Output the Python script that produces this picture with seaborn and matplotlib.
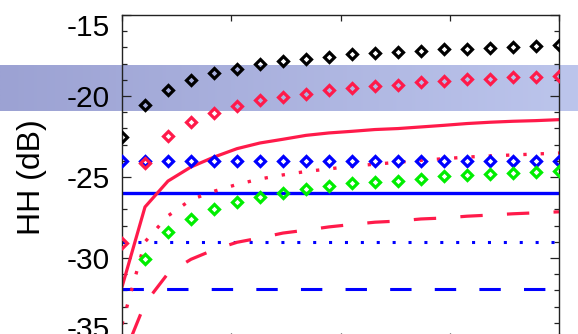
import numpy as np
import matplotlib
matplotlib.use("Agg")
import matplotlib.pyplot as plt
import matplotlib.transforms as mtrans
from matplotlib.colors import LinearSegmentedColormap
from matplotlib.ticker import MultipleLocator
import seaborn as sns

sns.set_style("white")
plt.rcParams["font.family"] = ["Liberation Sans", "DejaVu Sans"]
plt.rcParams["axes.unicode_minus"] = False

# ---------------- data ----------------
x_pos = [0, 1, 2, 3, 4, 5, 6, 7, 8, 9, 10, 11, 12, 13, 14, 15, 16, 17, 18, 19]

black_diamonds = [-22.53, -20.57, -19.60, -18.99, -18.58, -18.31, -18.04, -17.86, -17.73, -17.59,
                  -17.43, -17.35, -17.28, -17.20, -17.12, -17.07, -17.01, -16.97, -16.91, -16.85]
red_diamonds = [-29.10, -24.15, -22.49, -21.62, -21.05, -20.64, -20.27, -20.06, -19.85, -19.65,
                -19.50, -19.38, -19.30, -19.15, -19.05, -18.97, -18.93, -18.85, -18.80, -18.74]
blue_diamonds = [-24.0, -24.0, -24.0, -24.0, -24.0, -24.0, -24.0, -24.0, -24.0, -24.0,
                 -24.0, -24.0, -24.0, -24.0, -24.0, -24.0, -24.0, -24.0, -24.0, -24.0]
green_diamonds = [-35.20, -30.08, -28.40, -27.57, -26.95, -26.54, -26.23, -25.96, -25.76, -25.55,
                  -25.40, -25.31, -25.25, -25.10, -24.96, -24.90, -24.83, -24.75, -24.69, -24.65]

red_solid = [-31.79, -26.85, -25.25, -24.38, -23.77, -23.25, -22.90, -22.67, -22.43, -22.28,
             -22.18, -22.07, -22.01, -21.91, -21.81, -21.70, -21.62, -21.56, -21.52, -21.46]
red_dotted = [-34.10, -29.00, -27.40, -26.40, -25.88, -25.46, -25.12, -24.87, -24.66, -24.50,
              -24.33, -24.21, -24.09, -23.97, -23.87, -23.77, -23.70, -23.64, -23.58, -23.52]
red_dashed = [-36.30, -32.80, -30.95, -30.08, -29.49, -29.03, -28.76, -28.46, -28.28, -28.08,
              -27.93, -27.79, -27.72, -27.59, -27.53, -27.42, -27.35, -27.27, -27.21, -27.15]

blue_solid = [-26.0, -26.0, -26.0, -26.0, -26.0, -26.0, -26.0, -26.0, -26.0, -26.0,
              -26.0, -26.0, -26.0, -26.0, -26.0, -26.0, -26.0, -26.0, -26.0, -26.0]
blue_dotted = [-29.0, -29.0, -29.0, -29.0, -29.0, -29.0, -29.0, -29.0, -29.0, -29.0,
               -29.0, -29.0, -29.0, -29.0, -29.0, -29.0, -29.0, -29.0, -29.0, -29.0]
blue_dashed = [-31.93, -31.93, -31.93, -31.93, -31.93, -31.93, -31.93, -31.93, -31.93, -31.93,
               -31.93, -31.93, -31.93, -31.93, -31.93, -31.93, -31.93, -31.93, -31.93, -31.93]

band_range = [-20.93, -18.10]

y_ticks = [-35, -30, -25, -20, -15]
y_tick_labels = ["-35", "-30", "-25", "-20", "-15"]
x_ticks = [0, 4.75, 9.5, 14.25, 19]
y_label = "HH (dB)"

# ---------------- style ----------------
RED = "#ff1a4a"
BLUE = "#0000ff"
GREEN = "#00ee00"
BLACK = "#000000"

W, H = 578, 334
fig = plt.figure(figsize=(W / 100, H / 100), dpi=100)
ax = fig.add_axes([122 / W, 1 - 339 / H, 437 / W, 324 / H])

# gradient band spanning the figure width
band_cmap = LinearSegmentedColormap.from_list("band", ["#9ca2d3", "#bcc5ec"])
grad = np.linspace(0, 1, 256).reshape(1, -1)
ax.imshow(grad, cmap=band_cmap, aspect="auto", interpolation="bilinear",
          extent=(0, 1, band_range[0], band_range[1]),
          transform=mtrans.blended_transform_factory(fig.transFigure, ax.transData),
          clip_on=False, zorder=0)

dash = (0, (7.0, 7.6))
dot = (0, (1.0, 4.2))

def draw_line(y, color, ls, lw, z):
    sns.lineplot(x=x_pos, y=y, ax=ax, color=color, linewidth=lw, linestyle=ls,
                 estimator=None, sort=False, zorder=z)

draw_line(blue_solid, BLUE, "-", 2.4, 2)
draw_line(blue_dotted, BLUE, dot, 2.2, 2)
draw_line(blue_dashed, BLUE, dash, 2.2, 2)
draw_line(red_solid, RED, "-", 2.3, 2.1)
draw_line(red_dotted, RED, dot, 2.4, 2.1)
draw_line(red_dashed, RED, dash, 2.3, 2.1)

def draw_diamonds(y, color, z):
    sns.lineplot(x=x_pos, y=y, ax=ax, color=color, linestyle="", marker="D",
                 markersize=5.1, markerfacecolor="none", markeredgecolor=color,
                 markeredgewidth=2.3, estimator=None, sort=False, zorder=z)

draw_diamonds(blue_diamonds, BLUE, 3)
draw_diamonds(green_diamonds, GREEN, 3.1)
draw_diamonds(red_diamonds, RED, 3.2)
draw_diamonds(black_diamonds, BLACK, 3.3)

# ---------------- axes ----------------
ax.set_xlim(0, 19)
ax.set_ylim(-35, -15)
ax.set_xticks(x_ticks)
ax.set_yticks(y_ticks)
ax.set_yticklabels(y_tick_labels)
ax.yaxis.set_minor_locator(MultipleLocator(1))
ax.set_xlabel("")

for s in ax.spines.values():
    s.set_color("#222222")
    s.set_linewidth(1.0)

ax.tick_params(axis="both", which="both", direction="in", top=True, right=True,
               left=True, bottom=True, labelbottom=False, colors="#222222")
ax.tick_params(axis="y", which="major", length=6.5, width=0.9, pad=8.6,
               labelsize=21.5, labelcolor="black")
ax.tick_params(axis="y", which="minor", length=3.6, width=0.9)
ax.tick_params(axis="x", which="major", length=4.3, width=0.9)
ax.tick_params(axis="x", which="minor", top=False, bottom=False)

ax.set_ylabel(y_label, fontsize=23, color="black")
ax.yaxis.set_label_coords(-0.1716, 0.5)

labels = ax.get_yticklabels()
labels[0].set_transform(labels[0].get_transform() +
                        mtrans.ScaledTranslation(0, 12 / 100, fig.dpi_scale_trans))
labels[-1].set_transform(labels[-1].get_transform() +
                         mtrans.ScaledTranslation(0, -10 / 100, fig.dpi_scale_trans))

fig.savefig("out.png", dpi=100)
